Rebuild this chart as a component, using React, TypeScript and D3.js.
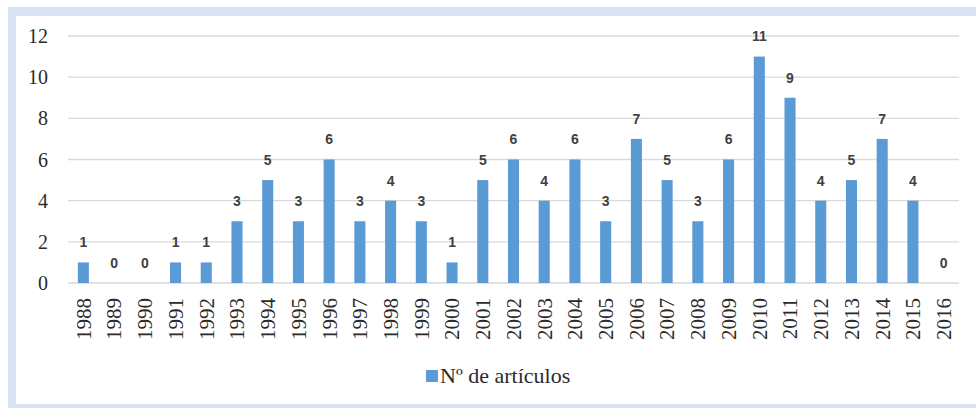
import React from "react";
import * as d3 from "d3";

const years: string[] = [
  "1988","1989","1990","1991","1992","1993","1994","1995","1996","1997",
  "1998","1999","2000","2001","2002","2003","2004","2005","2006","2007",
  "2008","2009","2010","2011","2012","2013","2014","2015","2016",
];
const articles: number[] = [
  1,0,0,1,1,3,5,3,6,3,
  4,3,1,5,6,4,6,3,7,5,
  3,6,11,9,4,5,7,4,0,
];
const yTicks: number[] = [0, 2, 4, 6, 8, 10, 12];
const seriesName = "Nº de artículos";

const W = 976;
const H = 408;
const BAR = "#5b9bd5";
const SERIF = "\"Liberation Serif\", \"Times New Roman\", \"DejaVu Serif\", serif";
const serifStyle = { fontFamily: SERIF };

export default function App() {
  const x = d3
    .scaleBand<string>()
    .domain(years)
    .range([68, 959])
    .paddingInner(0.64)
    .paddingOuter(0.32);
  const y = d3.scaleLinear().domain([0, 12]).range([283, 36]);

  return (
    <svg
      width={W}
      height={H}
      style={{ position: "absolute", left: 0, top: 0, background: "#fff" }}
    >
      <rect x={8} y={7} width={W - 8} height={H - 7} fill="#dae3f3" />
      <rect x={16} y={16} width={W - 16} height={388} fill="#ffffff" />

      {yTicks.map((t) => (
        <g key={t}>
          <line
            x1={68}
            x2={959}
            y1={y(t)}
            y2={y(t)}
            stroke="#d9d9d9"
            strokeWidth={1.3}
          />
          <text
            x={48}
            y={y(t)}
            dy="0.35em"
            textAnchor="end"
            style={serifStyle}
            fontSize={20}
            fill="#2b2b2b"
          >
            {t}
          </text>
        </g>
      ))}

      {years.map((yr, i) => {
        const cx = (x(yr) as number) + x.bandwidth() / 2;
        const v = articles[i];
        return (
          <g key={yr}>
            <rect
              x={x(yr)}
              y={y(v)}
              width={x.bandwidth()}
              height={y(0) - y(v)}
              fill={BAR}
            />
            <text
              x={cx}
              y={y(v) - 20}
              dy="0.35em"
              textAnchor="middle"
              style={{ fontFamily: "\"Liberation Sans\", Arial, sans-serif" }}
              fontWeight="bold"
              fontSize={14}
              fill="#404040"
            >
              {v}
            </text>
            <text
              transform={`translate(${cx},298) rotate(-90)`}
              dy="0.35em"
              textAnchor="end"
              style={serifStyle}
              fontSize={21}
              fill="#2b2b2b"
            >
              {yr}
            </text>
          </g>
        );
      })}

      <rect x={426} y={370} width={12} height={12} fill={BAR} />
      <text x={440} y={383} style={serifStyle} fontSize={22} fill="#2b2b2b">
        {seriesName}
      </text>
    </svg>
  );
}
